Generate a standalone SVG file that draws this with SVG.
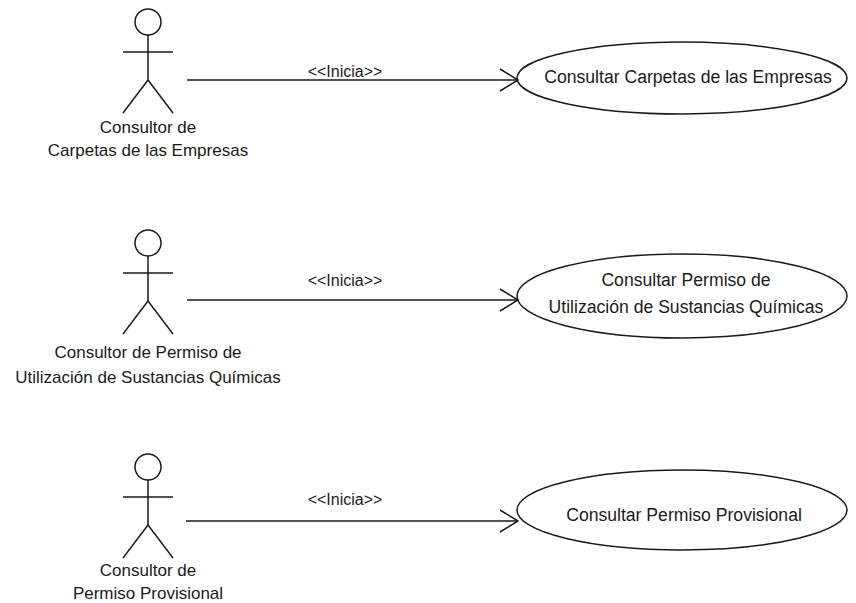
<svg xmlns="http://www.w3.org/2000/svg" width="856" height="603" viewBox="0 0 856 603">
  <style>
    .stk { fill: none; stroke: #1a1a1a; stroke-width: 1.5; }
    .uc { fill: #ffffff; stroke: #1a1a1a; stroke-width: 1.5; }
    .txt { font-family: "Liberation Sans", Arial, sans-serif; font-size: 17px; fill: #1a1a1a; text-anchor: middle; }
    .uct { font-size: 17.6px; }
    .lbl { font-family: "Liberation Sans", Arial, sans-serif; font-size: 16px; fill: #1a1a1a; text-anchor: middle; }
  </style>
  <defs>
    <!-- open V arrowhead for the association lines -->
    <marker id="open" viewBox="0 0 20 24" refX="19" refY="12" markerWidth="20" markerHeight="24" markerUnits="userSpaceOnUse" orient="auto">
      <path d="M1,1 L19,12 L1,23" fill="none" stroke="#1a1a1a" stroke-width="1.5"/>
    </marker>
    <!-- stick figure, origin at head centre -->
    <g id="stick">
      <circle cx="0" cy="0" r="13" class="stk"/>
      <line x1="0" y1="13" x2="0" y2="58" class="stk"/>
      <line x1="-25" y1="30" x2="25" y2="30" class="stk"/>
      <line x1="0" y1="58" x2="-25" y2="91" class="stk"/>
      <line x1="0" y1="58" x2="25" y2="91" class="stk"/>
    </g>
  </defs>
  <rect width="856" height="603" fill="#ffffff"/>

  <g id="actor-carpetas">
    <use href="#stick" x="148" y="22"/>
    <text class="txt" x="148" y="133">Consultor de</text>
    <text class="txt" x="148" y="156">Carpetas de las Empresas</text>
  </g>

  <g id="actor-sustancias">
    <use href="#stick" x="148" y="243"/>
    <text class="txt" x="148" y="358">Consultor de Permiso de</text>
    <text class="txt" x="148" y="383">Utilización de Sustancias Químicas</text>
  </g>

  <g id="actor-provisional">
    <use href="#stick" x="148" y="467"/>
    <text class="txt" x="148" y="576">Consultor de</text>
    <text class="txt" x="148" y="599">Permiso Provisional</text>
  </g>

  <g id="uc-carpetas">
    <ellipse class="uc" cx="682" cy="78" rx="165" ry="36"/>
    <text class="txt uct" x="688" y="83">Consultar Carpetas de las Empresas</text>
  </g>

  <g id="uc-sustancias">
    <ellipse class="uc" cx="682" cy="296" rx="165" ry="42"/>
    <text class="txt uct" x="686" y="286">Consultar Permiso de</text>
    <text class="txt uct" x="686" y="313">Utilización de Sustancias Químicas</text>
  </g>

  <g id="uc-provisional">
    <ellipse class="uc" cx="682" cy="510" rx="165" ry="40"/>
    <text class="txt uct" x="684" y="521">Consultar Permiso Provisional</text>
  </g>

  <g id="connectors">
    <line class="stk" x1="187" y1="80" x2="518" y2="80" marker-end="url(#open)"/>
    <text class="lbl" x="345" y="77">&lt;&lt;Inicia&gt;&gt;</text>
    <line class="stk" x1="187" y1="300" x2="518" y2="300" marker-end="url(#open)"/>
    <text class="lbl" x="345" y="286">&lt;&lt;Inicia&gt;&gt;</text>
    <line class="stk" x1="186" y1="521" x2="518" y2="521" marker-end="url(#open)"/>
    <text class="lbl" x="345" y="505">&lt;&lt;Inicia&gt;&gt;</text>
  </g>
</svg>
